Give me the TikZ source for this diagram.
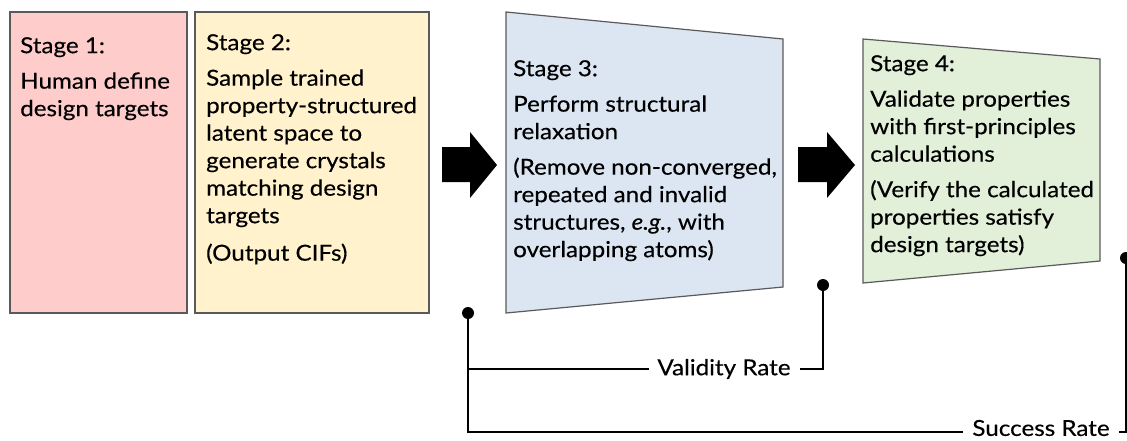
\documentclass[tikz,border=0pt]{standalone}
\usepackage{fontspec}
\setmainfont{Lato}[FakeStretch=1.1, FakeBold=0.35]
\definecolor{pinkfill}{HTML}{FFCCCC}
\definecolor{yellowfill}{HTML}{FFF2CC}
\definecolor{bluefill}{HTML}{DCE6F2}
\definecolor{greenfill}{HTML}{E2EFD9}
\definecolor{edgegray}{HTML}{5A5A5A}
\begin{document}
\begin{tikzpicture}[x=1pt,y=-1pt,
  stagebox/.style={draw=edgegray, line width=1.2pt},
  stagetext/.style={anchor=north west, inner sep=0pt, align=left, font=\fontsize{22}{27.5}\selectfont, text=black},
  blockarrow/.style={fill=black},
  conn/.style={line width=2.5pt, line cap=rect},
  ratelabel/.style={inner ysep=0pt, inner xsep=10pt, font=\fontsize{22}{26}\selectfont, text=black},
  dot/.style={fill=black}]
\useasboundingbox (0,0) rectangle (1127,440);
\fill[white] (0,0) rectangle (1127,440);
% boxes
\filldraw[stagebox, fill=pinkfill] (10,12) rectangle (187,313);
\filldraw[stagebox, fill=yellowfill] (195,12) rectangle (429,313);
\filldraw[stagebox, fill=bluefill] (506,12) -- (783,39) -- (783,287) -- (506,313) -- cycle;
\filldraw[stagebox, fill=greenfill] (863,39) -- (1100,59) -- (1100,261) -- (863,283) -- cycle;
% block arrows
\fill[blockarrow] (442,147) -- (470,147) -- (470,132) -- (497,165) -- (470,198) -- (470,182) -- (442,182) -- cycle;
\fill[blockarrow] (798,147) -- (827,147) -- (827,132) -- (855,165) -- (827,198) -- (827,182) -- (798,182) -- cycle;
% texts
\node[stagetext] (s1) at (20,37) {Stage 1:\\[8pt]Human define\\design targets};
\node[stagetext] (s2) at (206,34) {Stage 2:\\[8pt]Sample trained\\property-structured\\latent space to\\generate crystals\\matching design\\targets\\[10pt](Output CIFs)};
\node[stagetext] (s3) at (513,60) {Stage 3:\\[8pt]Perform structural\\relaxation\\[8pt](Remove non-converged,\\repeated and invalid\\structures, \textit{e.g.}, with\\overlapping atoms)};
\node[stagetext] (s4) at (870,55) {Stage 4:\\[8pt]Validate properties\\with first-principles\\calculations\\[8pt](Verify the calculated\\properties satisfy\\design targets)};
% rate labels
\node[ratelabel] (vr) at (724,369) {Validity Rate};
\node[ratelabel] (sr) at (1041,428) {Success Rate};
% connector end points
\coordinate (pA) at (468,313);
\coordinate (pB) at (823,285);
\coordinate (pC) at (1126,258);
\draw[conn] (pA) |- ([yshift=-4pt]sr.west);
\draw[conn] (pA |- vr.west) -- (vr.west);
\draw[conn] (vr.east) -| (pB);
\draw[conn] ([yshift=-4pt]sr.east) -| (pC);
\fill[dot] (pA) circle (6pt);
\fill[dot] (pB) circle (6pt);
\fill[dot] (pC) circle (6pt);
\end{tikzpicture}
\end{document}
